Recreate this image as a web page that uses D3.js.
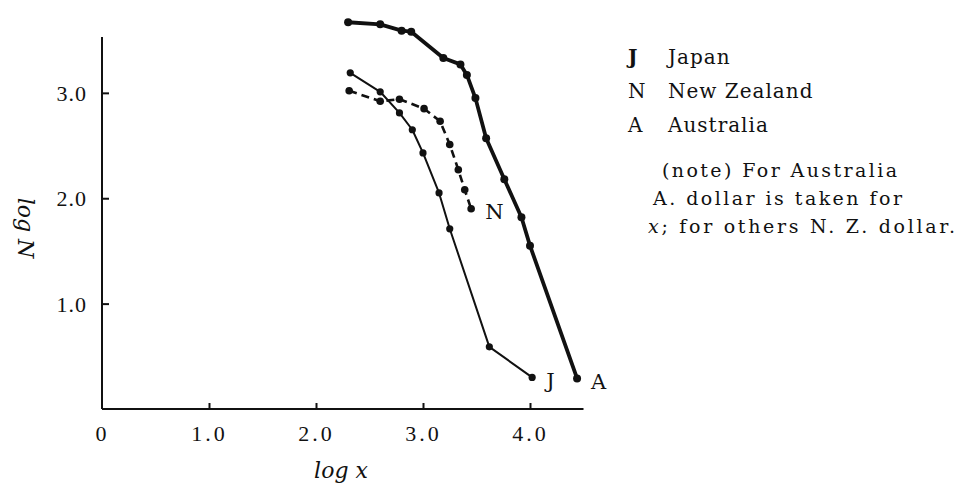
<!DOCTYPE html>
<head>
  <meta charset="utf-8">
  <script src="https://d3js.org/d3.v7.min.js"></script>
  <style>
body { margin: 0; background: #fff; }
svg text { font-family: "DejaVu Serif", "Liberation Serif", serif; fill: #111; }
.tick text { font-family: "Liberation Serif", serif; font-size: 22px; }
.axis path, .axis line { stroke: #111; stroke-width: 2px; }
.curve { fill: none; stroke: #111; stroke-linejoin: round; }
.ax-title { font-style: italic; font-size: 22px; }
  </style>
</head>
<body>
  <script>
    // log x / log N readings for each country
    var japanX = [2.32, 2.60, 2.78, 2.90, 3.00, 3.15, 3.25, 3.62, 4.02];
    var japanY = [3.19, 3.01, 2.81, 2.65, 2.43, 2.05, 1.71, 0.59, 0.30];
    var nzX = [2.31, 2.60, 2.78, 3.01, 3.16, 3.25, 3.33, 3.39, 3.45];
    var nzY = [3.02, 2.92, 2.94, 2.85, 2.73, 2.51, 2.27, 2.08, 1.90];
    var ausX = [2.30, 2.60, 2.80, 2.89, 3.19, 3.35, 3.41, 3.49, 3.59, 3.76, 3.92, 4.00, 4.44];
    var ausY = [3.67, 3.65, 3.59, 3.58, 3.33, 3.27, 3.17, 2.95, 2.57, 2.18, 1.82, 1.55, 0.29];

    var xTicks = [0, 1, 2, 3, 4];
    var yTicks = [1, 2, 3];
    var legendKeys = ["J", "N", "A"];
    var legendNames = ["Japan", "New Zealand", "Australia"];
    var noteLines = ["(note)  For  Australia", "A. dollar  is  taken  for", "x; for  others  N. Z.  dollar."];

    var svg = d3.select("body").append("svg")
      .attr("width", 962)
      .attr("height", 490);

    var x = d3.scaleLinear().domain([0, 4.5]).range([102, 583.5]);
    var y = d3.scaleLinear().domain([0, 3.53]).range([409, 37]);

    var xAxis = svg.append("g")
      .attr("class", "axis")
      .attr("transform", "translate(0,409)")
      .call(d3.axisBottom(x).tickValues(xTicks).tickSize(-6).tickPadding(13)
        .tickFormat(function(d) { return d === 0 ? "0" : d3.format(".1f")(d); }));
    xAxis.select(".domain").attr("d", "M102,0H583.5");
    xAxis.selectAll(".tick text").attr("dy", "0.85em").style("letter-spacing", "3px");
    xAxis.selectAll(".tick").filter(function(d) { return d === 0; }).select("line").remove();

    var yAxis = svg.append("g")
      .attr("class", "axis")
      .attr("transform", "translate(102,0)")
      .call(d3.axisLeft(y).tickValues(yTicks).tickSize(-7).tickPadding(15)
        .tickFormat(d3.format(".1f")));
    yAxis.select(".domain").attr("d", "M0,37V409");
    yAxis.selectAll(".tick text").attr("dy", "0.35em").style("letter-spacing", "1px");

    svg.append("text").attr("class", "ax-title")
      .attr("x", 341).attr("y", 478)
      .attr("text-anchor", "middle")
      .text("log x");

    svg.append("text").attr("class", "ax-title")
      .attr("transform", "translate(18,228) rotate(90)")
      .attr("text-anchor", "middle")
      .text("log N");

    var series = [
      {key: "J", xs: japanX, ys: japanY, w: 2, dash: null, r: 3.6},
      {key: "N", xs: nzX, ys: nzY, w: 2.6, dash: "8,5", r: 3.8},
      {key: "A", xs: ausX, ys: ausY, w: 3.8, dash: null, r: 4}
    ];

    var line = d3.line().x(function(d) { return x(d[0]); }).y(function(d) { return y(d[1]); });

    series.forEach(function(s) {
      var pts = s.xs.map(function(v, i) { return [v, s.ys[i]]; });
      svg.append("path")
        .attr("class", "curve")
        .attr("d", line(pts))
        .attr("stroke-width", s.w)
        .attr("stroke-dasharray", s.dash);
      svg.selectAll(null)
        .data(pts)
        .enter().append("circle")
        .attr("cx", function(d) { return x(d[0]); })
        .attr("cy", function(d) { return y(d[1]); })
        .attr("r", s.r)
        .attr("fill", "#111");
      var last = pts[pts.length - 1];
      svg.append("text")
        .attr("x", x(last[0]) + 14)
        .attr("y", y(last[1]) + 3)
        .attr("dy", "0.35em")
        .style("font-size", "21px")
        .text(s.key);
    });

    var legend = svg.append("g").attr("transform", "translate(628,0)");
    legend.selectAll(".lk")
      .data(legendKeys)
      .enter().append("text")
      .attr("x", 0)
      .attr("y", function(d, i) { return 57 + i * 34; })
      .attr("dy", "0.35em")
      .style("font-size", "20px")
      .style("font-weight", function(d, i) { return i === 0 ? "bold" : "normal"; })
      .text(function(d) { return d; });
    legend.selectAll(".ln")
      .data(legendNames)
      .enter().append("text")
      .attr("x", 40)
      .attr("y", function(d, i) { return 57 + i * 34; })
      .attr("dy", "0.35em")
      .style("font-size", "20px")
      .style("letter-spacing", "1px")
      .text(function(d) { return d; });

    var noteX = [662, 653, 648];
    var noteW = [235, 249, 307];
    svg.selectAll(".note")
      .data(noteLines)
      .enter().append("text")
      .attr("x", function(d, i) { return noteX[i]; })
      .attr("y", function(d, i) { return 170 + i * 28; })
      .attr("dy", "0.35em")
      .attr("textLength", function(d, i) { return noteW[i]; })
      .attr("lengthAdjust", "spacing")
      .style("font-size", "19px")
      .html(function(d, i) {
        return i === 2 ? '<tspan font-style="italic">x</tspan>' + d.slice(1) : d;
      });
  </script>
</body>
